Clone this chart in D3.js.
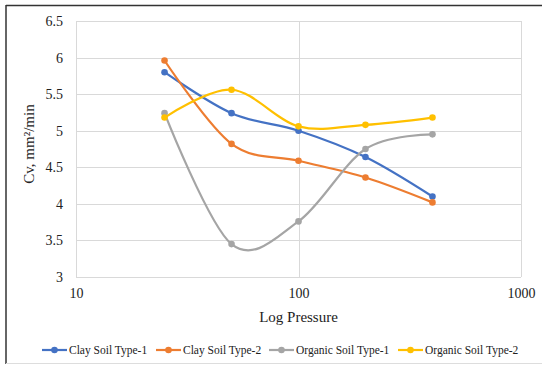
<!DOCTYPE html>
<html>
<head>
<meta charset="utf-8">
<script src="https://cdn.jsdelivr.net/npm/d3@7"></script>
<style>
  body { margin: 0; background: #fff; }
  svg text { font-family: "Liberation Serif", "Times New Roman", serif !important; fill: #222; }
</style>
</head>
<body>
<div id="chart"></div>
<script>
// pressure steps (x, log scale) and Cv values per soil
let pressures = [25, 50, 100, 200, 400];
let seriesNames = ["Clay Soil Type-1", "Clay Soil Type-2", "Organic Soil Type-1", "Organic Soil Type-2"];
let clay1 = [5.8, 5.24, 5.0, 4.64, 4.1];
let clay2 = [5.96, 4.82, 4.59, 4.36, 4.02];
let organic1 = [5.24, 3.45, 3.76, 4.75, 4.95];
let organic2 = [5.18, 5.56, 5.06, 5.08, 5.18];
let yTicks = [3, 3.5, 4, 4.5, 5, 5.5, 6, 6.5];
let xTicks = [10, 100, 1000];
let colors = ["#4472C4", "#ED7D31", "#A5A5A5", "#FFC000"];

let W = 542, H = 366;
let margin = { top: 21, right: 21, bottom: 89, left: 76 },
  width = W - margin.left - margin.right,
  height = H - margin.top - margin.bottom;

let root = d3.select("#chart").append("svg").attr("width", W).attr("height", H);

// outer frame
root.append("line").attr("x1", 6).attr("y1", 5.5).attr("x2", W).attr("y2", 5.5).attr("stroke", "#333").attr("stroke-width", 1.5);
root.append("line").attr("x1", 6).attr("y1", 5).attr("x2", 6).attr("y2", 364).attr("stroke", "#333").attr("stroke-width", 1.5);
root.append("line").attr("x1", 6).attr("y1", 363.5).attr("x2", W).attr("y2", 363.5).attr("stroke", "#ddd");

let svg = root.append("g").attr("transform", "translate(" + margin.left + "," + margin.top + ")");

let x = d3.scaleLog().domain([10, 1000]).range([0, width]);
let y = d3.scaleLinear().domain([3, 6.5]).range([height, 0]);

// grid
svg.append("g").selectAll("line").data(yTicks).enter().append("line")
  .attr("x1", 0).attr("x2", width)
  .attr("y1", (d) => Math.round(y(d)) + 0.5).attr("y2", (d) => Math.round(y(d)) + 0.5)
  .attr("stroke", "#d9d9d9");
svg.append("g").selectAll("line").data(xTicks).enter().append("line")
  .attr("y1", 0).attr("y2", height)
  .attr("x1", (d) => Math.round(x(d)) + 0.5).attr("x2", (d) => Math.round(x(d)) + 0.5)
  .attr("stroke", "#d9d9d9");

// axes (labels only, Excel style)
let yAxis = svg.append("g").attr("font-family", "Liberation Serif").attr("font-size", 14)
  .call(d3.axisLeft(y).tickValues(yTicks).tickSize(0).tickPadding(13).tickFormat(d3.format("")));
yAxis.attr("font-family", "Liberation Serif").attr("font-size", 14);
yAxis.select(".domain").remove();

let xAxis = svg.append("g").attr("transform", `translate(0,${height})`)
  .call(d3.axisBottom(x).tickValues(xTicks).tickSize(0).tickPadding(11).tickFormat(d3.format("")));
xAxis.attr("font-family", "Liberation Serif").attr("font-size", 14);
xAxis.select(".domain").remove();

// axis titles
svg.append("text").attr("x", width / 2).attr("y", height + 45).attr("text-anchor", "middle")
  .style("font-size", "15px").text("Log Pressure");
svg.append("text").attr("transform", `translate(-42,${height / 2 - 5}) rotate(-90)`).attr("text-anchor", "middle")
  .style("font-size", "15px").text("Cv, mm²/min");

// lines
let allSeries = [clay1, clay2, organic1, organic2];
let line = d3.line().x((d) => x(d.p)).y((d) => y(d.v)).curve(d3.curveCardinal.tension(0));

allSeries.forEach((vals, i) => {
  let pts = pressures.map((p, j) => ({ p: p, v: vals[j] }));
  svg.append("path").datum(pts).attr("d", line)
    .attr("fill", "none").attr("stroke", colors[i]).attr("stroke-width", 2.2);
  svg.append("g").selectAll("circle").data(pts).enter().append("circle")
    .attr("cx", (d) => x(d.p)).attr("cy", (d) => y(d.v)).attr("r", 3.3)
    .attr("fill", colors[i]);
});

// legend
let legendX = [42, 156, 269, 398];
let legend = root.append("g").attr("transform", "translate(0,350)");
seriesNames.forEach((name, i) => {
  let g = legend.append("g").attr("transform", `translate(${legendX[i]},0)`);
  g.append("line").attr("x1", 0).attr("x2", 25).attr("y1", 0).attr("y2", 0)
    .attr("stroke", colors[i]).attr("stroke-width", 2.2);
  g.append("circle").attr("cx", 12.5).attr("cy", 0).attr("r", 3.3).attr("fill", colors[i]);
  g.append("text").attr("x", 27).attr("y", 4).style("font-size", "11.5px").text(name);
});
</script>
</body>
</html>
